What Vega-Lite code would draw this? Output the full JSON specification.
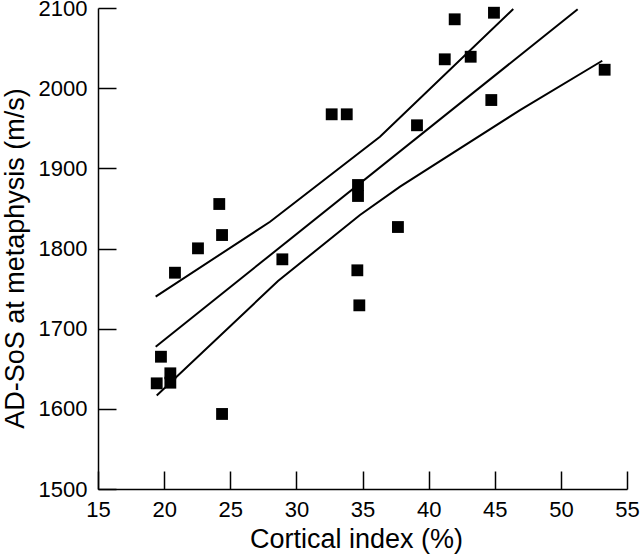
{
  "$schema": "https://vega.github.io/schema/vega-lite/v6.json",
  "width": 529,
  "height": 481,
  "autosize": "none",
  "padding": {"left": 98, "top": 8, "right": 13, "bottom": 71},
  "background": "white",
  "config": {
    "view": {"stroke": null},
    "font": "Liberation Sans",
    "axis": {
      "grid": false,
      "domainColor": "black",
      "domainWidth": 1.5,
      "tickColor": "black",
      "tickWidth": 1.5,
      "tickSize": -18,
      "labelFontSize": 22,
      "labelColor": "black",
      "titleFontSize": 27,
      "titleFontWeight": "normal",
      "titleColor": "black",
      "labelFlush": false,
      "labelOverlap": false,
      "format": "d"
    }
  },
  "datasets": {
    "points": [
      {"x": 24.17, "y": 1855.5},
      {"x": 24.38, "y": 1816.8},
      {"x": 22.56, "y": 1800.2},
      {"x": 20.82, "y": 1769.8},
      {"x": 28.94, "y": 1786.5},
      {"x": 19.76, "y": 1665.0},
      {"x": 20.47, "y": 1644.3},
      {"x": 20.47, "y": 1632.6},
      {"x": 19.44, "y": 1631.8},
      {"x": 24.38, "y": 1593.6},
      {"x": 32.67, "y": 1967.4},
      {"x": 33.81, "y": 1967.4},
      {"x": 39.12, "y": 1953.7},
      {"x": 34.66, "y": 1879.2},
      {"x": 34.66, "y": 1865.5},
      {"x": 37.68, "y": 1826.8},
      {"x": 34.61, "y": 1772.8},
      {"x": 34.76, "y": 1729.1},
      {"x": 41.97, "y": 2085.9},
      {"x": 44.94, "y": 2094.1},
      {"x": 41.22, "y": 2036.0},
      {"x": 43.18, "y": 2039.2},
      {"x": 44.74, "y": 1985.2},
      {"x": 53.31, "y": 2023.0}
    ],
    "curves": [
      {"curve": "upper", "x": 19.36, "y": 1739.9},
      {"curve": "upper", "x": 28.01, "y": 1833.4},
      {"curve": "upper", "x": 36.32, "y": 1939.4},
      {"curve": "upper", "x": 46.40, "y": 2098.7},
      {"curve": "fit", "x": 19.36, "y": 1677.5},
      {"curve": "fit", "x": 51.27, "y": 2098.4},
      {"curve": "lower", "x": 19.44, "y": 1616.6},
      {"curve": "lower", "x": 28.61, "y": 1759.4},
      {"curve": "lower", "x": 34.81, "y": 1841.8},
      {"curve": "lower", "x": 37.84, "y": 1877.1},
      {"curve": "lower", "x": 46.91, "y": 1972.7},
      {"curve": "lower", "x": 53.13, "y": 2034.2}
    ]
  },
  "layer": [
    {
      "data": {"name": "curves"},
      "mark": {"type": "line", "color": "black", "strokeWidth": 2},
      "encoding": {
        "x": {
          "field": "x", "type": "quantitative",
          "scale": {"domain": [15, 55], "nice": false, "zero": false},
          "axis": {
            "title": "Cortical index (%)",
            "values": [15, 20, 25, 30, 35, 40, 45, 50, 55],
            "labelPadding": 28,
            "titlePadding": 6,
            "titleX": 258
          }
        },
        "y": {
          "field": "y", "type": "quantitative",
          "scale": {"domain": [1500, 2100], "nice": false, "zero": false},
          "axis": {
            "title": "AD-SoS at metaphysis (m/s)",
            "values": [1500, 1600, 1700, 1800, 1900, 2000, 2100],
            "labelPadding": 29,
            "titlePadding": 9,
            "titleY": 250
          }
        },
        "detail": {"field": "curve"},
        "order": {"field": "x", "type": "quantitative"}
      }
    },
    {
      "data": {"name": "points"},
      "mark": {"type": "square", "color": "black", "size": 140, "opacity": 1, "filled": true},
      "encoding": {
        "x": {"field": "x", "type": "quantitative"},
        "y": {"field": "y", "type": "quantitative"}
      }
    }
  ]
}
